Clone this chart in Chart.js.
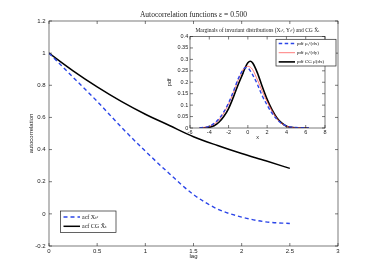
<!DOCTYPE html>
<html>
<head>
<meta charset="UTF-8" />
<title>Autocorrelation functions</title>
<style>
  body { margin: 0; background: #fff; }
  #wrap { position: relative; width: 374px; height: 277px; }
  #mainChart { position: absolute; left: 0; top: 0; }
  #insetChart { position: absolute; left: 160px; top: 24px; }
</style>
<script src="https://cdn.jsdelivr.net/npm/chart.js"></script>
</head>
<body>
<div id="wrap">
  <canvas id="mainChart" width="374" height="277"></canvas>
  <canvas id="insetChart" width="185" height="122"></canvas>
</div>
<script>
  // main plot: acf vs lag
  const lags = [0, 0.25, 0.5, 0.75, 1.0, 1.25, 1.5, 1.75, 2.0, 2.25, 2.5];
  const acfX = [1, 0.85, 0.70, 0.54, 0.39, 0.25, 0.12, 0.03, -0.02, -0.05, -0.06];
  const acfCG = [1, 0.89, 0.79, 0.70, 0.62, 0.55, 0.48, 0.425, 0.375, 0.33, 0.283];

  // inset: marginal densities
  const xGrid = [-5, -4.5, -4, -3.5, -3, -2.5, -2, -1.5, -1, -0.5, -0.25, 0, 0.25, 0.5, 1, 1.5, 2, 2.5, 3, 3.5, 4, 4.5, 5, 5.5, 6, 6.3];
  const pdfMu1 = [0.001, 0.003, 0.008, 0.02, 0.04, 0.07, 0.11, 0.16, 0.215, 0.255, 0.264, 0.262, 0.25, 0.232, 0.19, 0.14, 0.10, 0.065, 0.038, 0.02, 0.009, 0.004, 0.002, 0.001, 0.002, 0.001];
  const pdfMu2 = [0.001, 0.003, 0.007, 0.017, 0.035, 0.065, 0.105, 0.155, 0.21, 0.255, 0.266, 0.27, 0.266, 0.255, 0.21, 0.16, 0.115, 0.075, 0.042, 0.02, 0.008, 0.003, 0.001, 0.001, 0, 0];
  const pdfCG = [0, 0.001, 0.003, 0.01, 0.025, 0.05, 0.085, 0.135, 0.19, 0.24, 0.266, 0.285, 0.292, 0.284, 0.24, 0.18, 0.125, 0.08, 0.045, 0.022, 0.008, 0.003, 0.001, 0, 0, 0];

  const sans = "'Liberation Sans', Arial, sans-serif";
  const serif = "'Liberation Serif', 'DejaVu Serif', serif";
  const plain = (v) => String(+v.toFixed(3));

  function pts(xs, ys) {
    return ys.map((y, i) => ({ x: xs[i], y: y }));
  }

  // box around the axes with inward ticks on all four sides
  const boxTicks = {
    id: "boxTicks",
    beforeDatasetsDraw(chart, args, opts) {
      if (!opts.fill) return;
      const a = chart.chartArea;
      const ctx = chart.ctx;
      ctx.save();
      ctx.fillStyle = "#fff";
      ctx.fillRect(a.left, a.top, a.right - a.left, a.bottom - a.top);
      ctx.restore();
    },
    afterDraw(chart) {
      const a = chart.chartArea;
      const ctx = chart.ctx;
      const len = 3;
      ctx.save();
      ctx.strokeStyle = "#222";
      ctx.lineWidth = 0.6;
      ctx.strokeRect(a.left, a.top, a.right - a.left, a.bottom - a.top);
      ctx.beginPath();
      const xs = chart.scales.x;
      xs.ticks.forEach((t) => {
        const px = xs.getPixelForValue(t.value);
        ctx.moveTo(px, a.bottom); ctx.lineTo(px, a.bottom - len);
        ctx.moveTo(px, a.top); ctx.lineTo(px, a.top + len);
      });
      const ys = chart.scales.y;
      ys.ticks.forEach((t) => {
        const py = ys.getPixelForValue(t.value);
        ctx.moveTo(a.left, py); ctx.lineTo(a.left + len, py);
        ctx.moveTo(a.right, py); ctx.lineTo(a.right - len, py);
      });
      ctx.stroke();
      ctx.restore();
    }
  };

  // matlab style legend box at a fixed spot
  const boxLegend = {
    id: "boxLegend",
    afterDraw(chart, args, o) {
      const ctx = chart.ctx;
      ctx.save();
      ctx.fillStyle = "#fff";
      ctx.fillRect(o.x, o.y, o.w, o.h);
      ctx.strokeStyle = "#222";
      ctx.lineWidth = 0.7;
      ctx.strokeRect(o.x, o.y, o.w, o.h);
      chart.data.datasets.forEach((ds, i) => {
        const y = o.y + o.first + i * o.step;
        ctx.beginPath();
        ctx.strokeStyle = ds.borderColor;
        ctx.lineWidth = ds.borderWidth;
        ctx.setLineDash(ds.borderDash || []);
        ctx.moveTo(o.x + o.lineFrom, y);
        ctx.lineTo(o.x + o.lineTo, y);
        ctx.stroke();
        ctx.setLineDash([]);
        ctx.fillStyle = "#111";
        ctx.font = o.font;
        ctx.textBaseline = "middle";
        ctx.fillText(ds.label, o.x + o.textX, y);
      });
      ctx.restore();
    }
  };

  new Chart(document.getElementById("mainChart"), {
    type: "line",
    data: {
      datasets: [
        {
          label: "acf X\u209C\u1D4B",
          data: pts(lags, acfX),
          borderColor: "#2b45e8",
          borderWidth: 1.4,
          borderDash: [4, 3],
          pointRadius: 0,
          cubicInterpolationMode: "monotone",
        },
        {
          label: "acf CG X\u0304\u209C",
          data: pts(lags, acfCG),
          borderColor: "#000",
          borderWidth: 1.5,
          pointRadius: 0,
          cubicInterpolationMode: "monotone",
        },
      ],
    },
    options: {
      responsive: false,
      animation: false,
      events: [],
      layout: { padding: { left: 0, right: 36, top: 0, bottom: 0 } },
      scales: {
        x: {
          type: "linear",
          min: 0,
          max: 3,
          afterFit: (s) => { s.height = 31; },
          grid: { display: false, drawTicks: false },
          border: { display: false },
          ticks: { stepSize: 0.5, padding: 2, color: "#222", font: { family: sans, size: 6 }, maxRotation: 0, callback: plain },
          title: { display: true, text: "lag", color: "#222", font: { family: sans, size: 6 }, padding: { top: 0, bottom: 16.7 } },
        },
        y: {
          min: -0.2,
          max: 1.2,
          afterFit: (s) => { s.width = 49; },
          grid: { display: false, drawTicks: false },
          border: { display: false },
          ticks: { stepSize: 0.2, padding: 3.5, color: "#222", font: { family: sans, size: 6 }, callback: plain },
          title: { display: true, text: "autocorrelation", color: "#222", font: { family: sans, size: 6 }, padding: { top: 27.4, bottom: 0 } },
        },
      },
      plugins: {
        legend: { display: false },
        tooltip: { enabled: false },
        title: {
          display: true,
          fullSize: false,
          text: "Autocorrelation functions \u03B5 = 0.500",
          color: "#222",
          font: { family: serif, size: 7.5, weight: "normal" },
          padding: { top: 10.5, bottom: 1.5 },
        },
        boxTicks: {},
        boxLegend: {
          x: 60.5, y: 211, w: 55.5, h: 21.5,
          first: 6, step: 9.3,
          lineFrom: 3, lineTo: 19.5, textX: 21.5,
          font: "6px " + serif,
        },
      },
    },
    plugins: [boxTicks, boxLegend],
  });

  new Chart(document.getElementById("insetChart"), {
    type: "line",
    data: {
      datasets: [
        {
          label: "pdf \u03BC\u2081\u1D4B(dx)",
          data: pts(xGrid, pdfMu1),
          borderColor: "#2b45e8",
          borderWidth: 1.4,
          borderDash: [3.5, 2.5],
          pointRadius: 0,
          cubicInterpolationMode: "monotone",
        },
        {
          label: "pdf \u03BC\u2082\u1D4B(dy)",
          data: pts(xGrid, pdfMu2),
          borderColor: "#ff5a5a",
          borderWidth: 0.8,
          pointRadius: 0,
          cubicInterpolationMode: "monotone",
        },
        {
          label: "pdf CG \u03BC\u0304(dx)",
          data: pts(xGrid, pdfCG),
          borderColor: "#000",
          borderWidth: 1.6,
          pointRadius: 0,
          cubicInterpolationMode: "monotone",
        },
      ],
    },
    options: {
      responsive: false,
      animation: false,
      events: [],
      layout: { padding: { left: 0, right: 20, top: 0, bottom: 0 } },
      scales: {
        x: {
          type: "linear",
          min: -6,
          max: 8,
          afterFit: (s) => { s.height = 18; },
          grid: { display: false, drawTicks: false },
          border: { display: false },
          ticks: { stepSize: 2, padding: 1.5, color: "#222", font: { family: sans, size: 5.5 }, maxRotation: 0, callback: plain },
          title: { display: true, text: "x", color: "#222", font: { family: sans, size: 5.5 }, padding: { top: 0, bottom: 5.5 } },
        },
        y: {
          min: 0,
          max: 0.4,
          afterFit: (s) => { s.width = 30; },
          grid: { display: false, drawTicks: false },
          border: { display: false },
          ticks: { stepSize: 0.05, padding: 1.8, color: "#222", font: { family: sans, size: 5.5 }, callback: plain },
          title: { display: true, text: "pdf", color: "#222", font: { family: sans, size: 5.5 }, padding: { top: 6.5, bottom: 0 } },
        },
      },
      plugins: {
        legend: { display: false },
        tooltip: { enabled: false },
        title: {
          display: true,
          fullSize: false,
          text: "Marginals of invariant distributions (X\u209C\u1D4B, Y\u209C\u1D4B) and CG X\u0304\u209C",
          color: "#222",
          font: { family: serif, size: 5.5, weight: "normal" },
          padding: { top: 3.7, bottom: 2.2 },
        },
        boxTicks: { fill: true },
        boxLegend: {
          x: 116, y: 15.3, w: 60, h: 26.7,
          first: 4.2, step: 9.2,
          lineFrom: 2.7, lineTo: 19, textX: 21,
          font: "5px " + serif,
        },
      },
    },
    plugins: [boxTicks, boxLegend],
  });
</script>
</body>
</html>
